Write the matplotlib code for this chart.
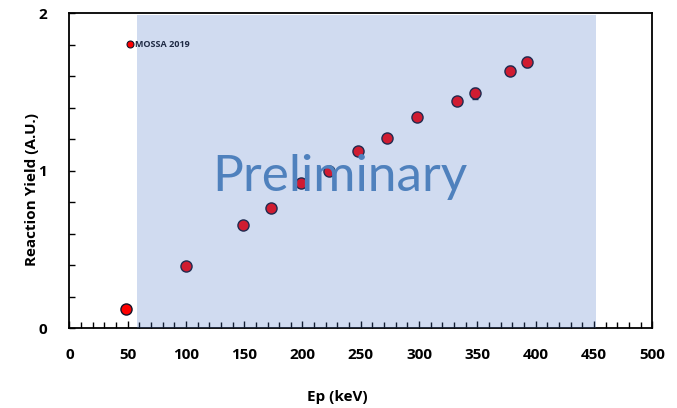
import matplotlib
matplotlib.use('Agg')
import matplotlib.pyplot as plt
from matplotlib import ticker
from matplotlib.lines import Line2D

plt.rcParams['font.family'] = ['Open Sans', 'DejaVu Sans']

# data
ep_kev = [48.5, 99.7, 148.7, 172.7, 198.4, 222.6, 247.8, 272.9, 298.0, 332.8, 348.2, 378.4, 392.7]
yield_au = [0.124, 0.397, 0.654, 0.762, 0.921, 1.0, 1.128, 1.208, 1.343, 1.445, 1.492, 1.636, 1.691]
yield_err = [0.012, 0.012, 0.012, 0.012, 0.012, 0.012, 0.015, 0.012, 0.018, 0.022, 0.035, 0.03, 0.032]
label_serie = 'MOSSA 2019'
shade_range = (57.7, 452.0)
x_ticks = [0, 50, 100, 150, 200, 250, 300, 350, 400, 450, 500]
y_ticks = [0, 1, 2]

fig = plt.figure(figsize=(6.77, 4.08), dpi=100)
ax = fig.add_axes([0.1024, 0.1953, 0.861, 0.7717])

ax.errorbar(ep_kev, yield_au, yerr=yield_err, fmt='o', color='#ff0000',
            markersize=8, markeredgecolor='#14142a', markeredgewidth=1.0,
            ecolor='#14142a', elinewidth=1.0, capsize=2.5, zorder=3)

# semi transparent "preliminary" box on top of the points
ax.axvspan(shade_range[0], shade_range[1], ymin=0, ymax=0.994,
           color='#4472c4', alpha=0.25, lw=0, zorder=4)
ax.text(0.465, 0.482, 'Preliminary', transform=ax.transAxes, fontsize=37,
        color='#4f81bd', ha='center', va='center', zorder=5,
        family=['Lato', 'DejaVu Sans'])

ax.set_xlim(0, 500)
ax.set_ylim(0, 2)
ax.set_xticks(x_ticks)
ax.set_yticks(y_ticks)
ax.xaxis.set_minor_locator(ticker.MultipleLocator(10))
ax.yaxis.set_minor_locator(ticker.MultipleLocator(0.2))
ax.tick_params(which='both', direction='in', top=False, right=False)
ax.tick_params(which='major', length=5, width=1, labelsize=11, pad=14)
ax.tick_params(which='minor', length=4, width=1)
ax.tick_params(axis='y', which='major', length=4, pad=16)
for lbl in ax.get_xticklabels() + ax.get_yticklabels():
    lbl.set_fontweight('bold')
for sp in ax.spines.values():
    sp.set_linewidth(1.3)
    sp.set_color('black')

ax.set_xlabel('Ep (keV)', fontsize=11, fontweight='bold')
ax.xaxis.label.set_va('center')
ax.xaxis.set_label_coords(0.459, -0.218)
ax.set_ylabel('Reaction Yield (A.U.)', fontsize=11, fontweight='bold')
ax.yaxis.label.set_va('center')
ax.yaxis.set_label_coords(-0.064, 0.44)

handle = Line2D([], [], ls='none', marker='o', markersize=5, color='#ff0000',
                markeredgecolor='#14142a', markeredgewidth=0.8)
leg = ax.legend([handle], [label_serie], loc='center left',
                bbox_to_anchor=(0.098, 0.9), frameon=False, fontsize=6.5,
                handletextpad=0.1, borderpad=0, borderaxespad=0, handlelength=0.8)
for t in leg.get_texts():
    t.set_fontweight('bold')
    t.set_color('#1f2a44')

fig.savefig('out.png', dpi=100)
